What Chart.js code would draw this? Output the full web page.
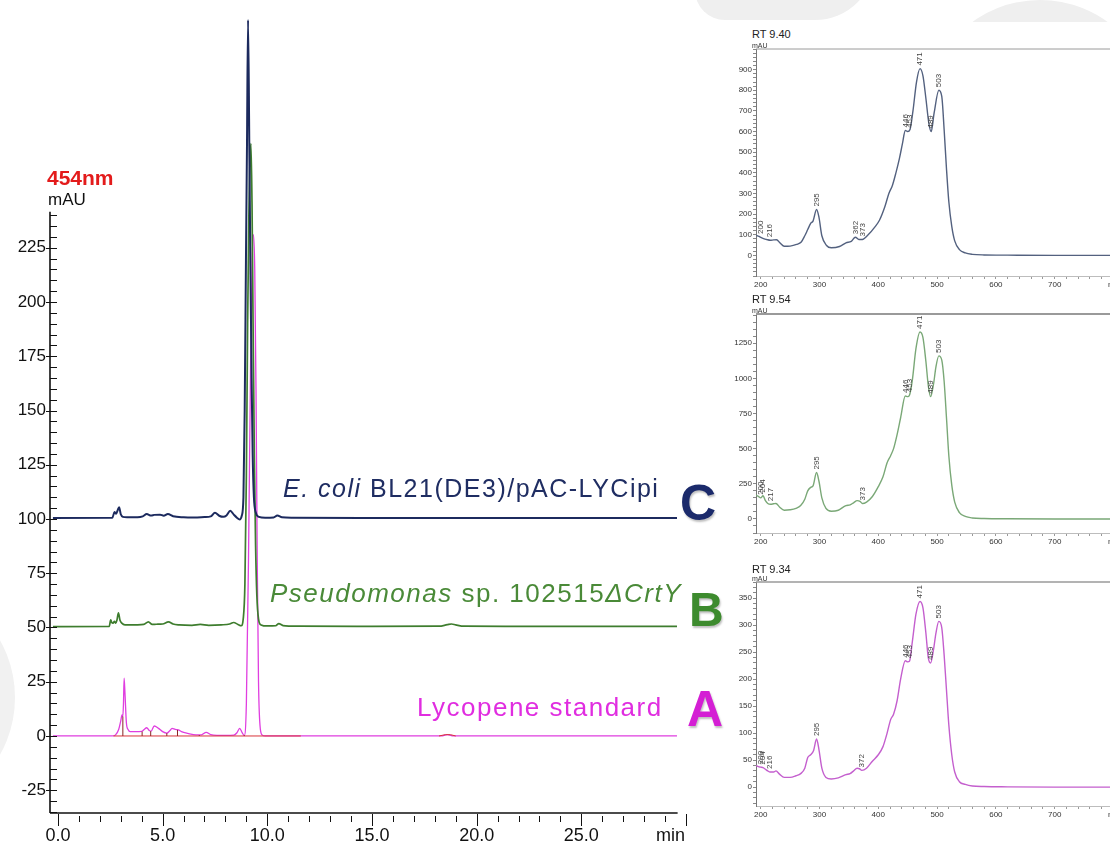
<!DOCTYPE html>
<html>
<head>
<meta charset="utf-8">
<script src="https://cdn.jsdelivr.net/npm/chart.js@4.4.1/dist/chart.umd.min.js"></script>
<style>
body{margin:0;width:1110px;height:848px;overflow:hidden;background:#fff;position:relative;font-family:"Liberation Sans",Arial,sans-serif}
.abs{position:absolute;white-space:nowrap}
canvas{position:absolute}
</style>
</head>
<body>
<!-- faint background shapes -->
<div class="abs" style="left:695px;top:-50px;width:180px;height:70px;background:#efefef;border-radius:0 0 60px 30px"></div>
<div class="abs" style="left:925px;top:0;width:230px;height:230px;border:22px solid #efefef;border-radius:50%;box-sizing:border-box"></div>
<div class="abs" style="left:-200px;top:585px;width:215px;height:225px;background:#f1f1f1;border-radius:50%"></div>
<div class="abs" style="left:735px;top:22px;width:380px;height:830px;background:#fff"></div>

<canvas id="chrom" width="720" height="848" style="left:0;top:0"></canvas>
<canvas id="spec1" width="394" height="243" style="left:726px;top:47px"></canvas>
<canvas id="spec2" width="394" height="235" style="left:726px;top:312px"></canvas>
<canvas id="spec3" width="394" height="240" style="left:726px;top:580px"></canvas>

<div class="abs" style="left:47px;top:167px;font-weight:bold;font-size:21px;line-height:21px;color:#e31b1b">454nm</div>
<div class="abs" style="left:48px;top:191px;font-size:17px;line-height:17px;color:#111">mAU</div>
<div class="abs" style="left:656px;top:826px;font-size:18px;line-height:18px;color:#111">min</div>

<div class="abs" style="left:283px;top:476px;font-size:25px;line-height:25px;letter-spacing:1.5px;color:#1f2d62"><i>E. coli</i> BL21(DE3)/pAC-LYCipi</div>
<div class="abs" style="left:270px;top:580px;font-size:26px;line-height:26px;letter-spacing:1.5px;color:#4a8a38"><i>Pseudomonas</i> sp. 102515<i>ΔCrtY</i></div>
<div class="abs" style="left:417px;top:694px;font-size:26px;line-height:26px;letter-spacing:1.5px;color:#e02de0">Lycopene standard</div>
<div class="abs" style="left:680px;top:478px;font-weight:bold;font-size:50px;line-height:50px;color:#1b2a6b;text-shadow:1px 2px 2px rgba(0,0,0,0.25)">C</div>
<div class="abs" style="left:689px;top:586px;font-weight:bold;font-size:48px;line-height:48px;color:#3d8b2e;text-shadow:1px 2px 2px rgba(0,0,0,0.25)">B</div>
<div class="abs" style="left:687px;top:684px;font-weight:bold;font-size:50px;line-height:50px;color:#d41fd4;text-shadow:1px 2px 2px rgba(0,0,0,0.25)">A</div>

<div class="abs" style="left:752px;top:29px;font-size:11px;line-height:11px;color:#222">RT 9.40</div>
<div class="abs" style="left:752px;top:42px;font-size:7px;line-height:7px;color:#333">mAU</div>
<div class="abs" style="left:752px;top:294px;font-size:11px;line-height:11px;color:#222">RT 9.54</div>
<div class="abs" style="left:752px;top:307px;font-size:7px;line-height:7px;color:#333">mAU</div>
<div class="abs" style="left:752px;top:564px;font-size:11px;line-height:11px;color:#222">RT 9.34</div>
<div class="abs" style="left:752px;top:575px;font-size:7px;line-height:7px;color:#333">mAU</div>

<script>
// chromatogram, 454 nm (traces offset by 0 / 50 / 100 mAU)
var traceC_t = [-0.24,2.6,2.7,2.78,2.85,2.92,3.0,3.1,3.3,3.8,4.05,4.24,4.45,4.6,4.88,5.05,5.25,5.5,6.0,6.5,7.0,7.3,7.5,7.7,7.9,8.05,8.23,8.4,8.55,8.68,8.78,8.86,8.92,8.98,9.03,9.08,9.14,9.19,9.25,9.3,9.36,9.45,9.6,9.9,10.3,10.48,10.7,11.2,15,20,25,29.57];
var traceC_v = [100.5,100.6,103.2,102.4,104.0,105.4,102.2,101.0,100.8,100.8,101.2,102.3,101.6,101.9,102.0,101.5,102.3,101.3,100.8,100.7,100.9,101.2,102.9,101.5,101.0,101.6,103.8,102.0,100.6,99.8,101.5,110,150,219,273,330,273,219,165,130,110,103,101,100.6,100.7,101.6,100.8,100.6,100.5,100.5,100.5,100.5];

var traceB_t = [-0.24,2.45,2.52,2.57,2.63,2.7,2.76,2.82,2.89,2.96,3.05,3.2,3.8,4.1,4.32,4.5,4.7,5.0,5.28,5.5,5.8,6.4,6.8,7.2,7.8,8.2,8.39,8.6,8.75,8.85,8.93,9.0,9.06,9.12,9.17,9.22,9.27,9.32,9.38,9.44,9.5,9.58,9.7,10.0,10.4,10.55,10.75,11.5,15,18.2,18.6,18.8,19.0,19.4,22,26,29.57];
var traceB_v = [50.4,50.5,53.5,52.3,52.0,52.8,52.0,53.5,56.8,53.5,52.0,51.2,51.2,51.4,52.6,51.4,51.5,51.6,52.6,51.6,51.2,51.0,51.4,51.0,51.2,51.6,52.3,51.4,50.8,54,70,120,190,240,265,273,245,190,130,88,65,54,51.2,50.7,50.8,51.8,50.9,50.6,50.5,50.6,51.3,51.6,51.2,50.6,50.5,50.5,50.5];

var traceA_t = [-0.24,2.6,2.75,2.9,3.0,3.06,3.1,3.13,3.16,3.2,3.27,3.35,3.45,3.7,4.0,4.12,4.24,4.36,4.45,4.6,4.8,5.0,5.2,5.35,5.45,5.6,5.75,5.9,6.2,6.6,6.85,7.08,7.3,7.6,8.0,8.4,8.55,8.68,8.8,8.9,9.0,9.1,9.2,9.28,9.34,9.4,9.46,9.52,9.58,9.65,9.75,9.9,12,15,18.3,18.6,18.9,19.2,22,26,29.57];
var traceA_v = [0,0,0.5,3,7,9.7,9,15,26.6,20,6,3,2,2,2.1,3,3.8,2.5,2.2,4.6,3.5,2,1.3,2.5,3.5,3,2.8,2,1.2,0.5,0.5,1.7,0.6,0.3,0.3,0.4,1.5,3.5,1.5,0.2,15,80,170,220,231,215,160,80,25,5,0.5,0,0,0,0,0.6,0,0,0,0,0];

// integration baseline and peak marks on the standard
var baseA_t = [2.65,11.6,11.61,18.2,18.5,18.75,19.0];
var baseA_v = [0,0,null,0,0.6,0.6,0];
var markA_t = [3.1,4.02,4.43,5.2,5.71,6.75,8.9];
var markA_h = [9,2.0,2.2,1.3,2.8,0.4,0.3];

// UV-vis spectra at the peak apex
var spec1_nm = [192,197,201,206,210,216,222,227,233,240,250,261,269,275,280,285,289,295,299,304,312,320,334,345,354,361,367,373,382,394,402,411,418,424,430,436,441,446,450,454,459,465,471,476,481,486,490,495,503,508,512,516,520,525,530,538,548,560,580,620,700,800];
var spec1_val = [97,92,86,80,77,73,75,76,60,44,45,53,65,95,125,155,166,222,186,95,48,37,43,61,68,88,77,77,97,137,170,234,300,339,400,470,540,605,600,610,700,840,905,870,760,640,600,690,800,770,610,420,260,140,70,28,12,5,2,1,0,0];
var spec1_pkNm = [200,216,295,362,373,446,453,471,489,503];
var spec1_pkY = [89,73,222,88,77,605,603,905,600,800];

var spec2_nm = [192,196,200,204,208,212,217,222,226,232,240,250,260,268,275,280,285,289,295,299,304,311,320,332,345,352,358,364,369,373,380,390,400,408,415,421,426,432,438,446,450,453,458,464,471,476,481,485,489,494,498,503,508,512,516,520,525,530,538,548,560,580,620,700,800];
var spec2_val = [170,160,150,165,130,110,105,108,110,85,62,65,75,95,140,200,225,235,330,270,150,75,55,62,95,100,115,130,125,110,120,160,230,300,400,450,500,600,720,875,870,880,990,1210,1330,1290,1120,950,870,960,1080,1160,1130,980,720,450,240,120,45,18,7,3,1,0,0];
var spec2_pkNm = [200,204,217,295,373,446,453,471,489,503];
var spec2_pkY = [150,165,105,330,110,875,880,1330,870,1160];

var spec3_nm = [192,196,200,204,208,212,216,222,226,232,240,250,260,268,275,280,285,290,295,299,304,311,320,332,345,352,358,364,368,372,380,390,400,408,415,421,426,432,438,446,450,453,458,464,471,476,481,485,489,494,498,503,508,512,516,520,525,530,538,548,560,580,620,700,800];
var spec3_val = [40,38,37,36,33,30,28,28,30,24,18,18,21,25,35,55,60,68,89,70,35,18,15,17,23,25,30,35,34,31,35,48,60,75,100,125,135,160,200,234,232,233,270,320,344,332,285,240,230,255,285,307,295,245,180,115,60,28,10,5,2,1,0.5,0,0];
var spec3_pkNm = [200,204,216,295,372,446,453,471,489,503];
var spec3_pkY = [37,36,28,89,31,234,233,344,230,307];

var axisTopVal = 241.6;   // y axis line stops here
var axisEndMin = 29.6;    // x axis line stops here

Chart.defaults.font.family = '"Liberation Sans", Arial, sans-serif';
Chart.defaults.color = '#111';

function pts(t, v) {
    return t.map(function(x, i) { return {x: x, y: v[i]}; });
}

function markPts(t, h) {
    var out = [];
    for (var i = 0; i < t.length; i++) {
        out.push({x: t[i], y: 0}, {x: t[i], y: h[i]}, {x: t[i], y: null});
    }
    return out;
}

// keep the plot area exactly where the layout puts it (no label padding)
function noPad(s) {
    s.paddingTop = 0;
    s.paddingBottom = 0;
}

// axis lines and tick marks of the chromatogram
var chromAxes = {
    id: 'chromAxes',
    afterDraw: function(chart) {
        var ctx = chart.ctx, xs = chart.scales.x, ys = chart.scales.y, a = chart.chartArea;
        ctx.save();
        ctx.strokeStyle = '#111';
        ctx.lineWidth = 1.6;
        ctx.beginPath();
        ctx.moveTo(a.left, a.bottom);
        ctx.lineTo(a.left, ys.getPixelForValue(axisTopVal));
        ctx.moveTo(a.left, a.bottom);
        ctx.lineTo(xs.getPixelForValue(axisEndMin), a.bottom);
        ctx.stroke();
        ctx.lineWidth = 1;
        ys.ticks.forEach(function(tk) {
            var v = Math.round(tk.value);
            if (v > 240) return;
            var y = Math.round(ys.getPixelForValue(v)) + 0.5;
            var major = v % 25 === 0 && v >= -25 && v <= 225;
            ctx.beginPath();
            ctx.moveTo(major ? a.left - 4 : a.left, y);
            ctx.lineTo(a.left + 7, y);
            ctx.stroke();
        });
        xs.ticks.forEach(function(tk) {
            var v = Math.round(tk.value);
            var x = Math.round(xs.getPixelForValue(v)) + 0.5;
            var major = v % 5 === 0;
            ctx.beginPath();
            ctx.moveTo(x, a.bottom + (major ? 1 : 3));
            ctx.lineTo(x, a.bottom + (major ? 13 : 9));
            ctx.stroke();
        });
        ctx.restore();
    }
};

new Chart(document.getElementById('chrom'), {
    type: 'line',
    data: {
        datasets: [
            {data: pts(traceC_t, traceC_v), borderColor: '#1c2a5e', borderWidth: 2, pointRadius: 0, cubicInterpolationMode: 'monotone'},
            {data: pts(traceB_t, traceB_v), borderColor: '#3e7d2e', borderWidth: 1.7, pointRadius: 0, cubicInterpolationMode: 'monotone'},
            {data: markPts(markA_t, markA_h), borderColor: '#8a2222', borderWidth: 1, pointRadius: 0, spanGaps: false},
            {data: pts(baseA_t, baseA_v), borderColor: '#d8333a', borderWidth: 1, pointRadius: 0, spanGaps: false},
            {data: pts(traceA_t, traceA_v), borderColor: '#e03ee0', borderWidth: 1.3, pointRadius: 0, cubicInterpolationMode: 'monotone'}
        ]
    },
    options: {
        responsive: false,
        animation: false,
        events: [],
        layout: {padding: {left: 0, right: 34, top: 0, bottom: 0}},
        plugins: {legend: {display: false}, tooltip: {enabled: false}},
        scales: {
            x: {
                type: 'linear', min: -0.38, max: 30,
                grid: {display: false, drawTicks: false},
                border: {display: false},
                afterFit: function(s) { s.height = 35; },
                ticks: {
                    stepSize: 1, autoSkip: false, includeBounds: false, maxRotation: 0, padding: 12,
                    font: {size: 18}, color: '#111',
                    callback: function(v) { var r = Math.round(v); return (r % 5 === 0 && r < 30) ? r.toFixed(1) : ''; }
                }
            },
            y: {
                type: 'linear', min: -35.5, max: 339.2,
                grid: {display: false, drawTicks: false},
                border: {display: false},
                afterFit: function(s) { s.width = 50; noPad(s); },
                ticks: {
                    stepSize: 5, autoSkip: false, includeBounds: false, padding: 4,
                    font: {size: 17}, color: '#111',
                    callback: function(v) { var r = Math.round(v); return (r % 25 === 0 && r >= -25 && r <= 225) ? String(r) : ''; }
                }
            }
        }
    },
    plugins: [chromAxes]
});

// rotated peak wavelength labels + top frame line of a spectrum
var specMarks = {
    id: 'specMarks',
    afterDraw: function(chart) {
        var o = chart.options.plugins.specMarks, ctx = chart.ctx, a = chart.chartArea;
        var xs = chart.scales.x, ys = chart.scales.y;
        ctx.save();
        ctx.strokeStyle = '#9a9a9a';
        ctx.lineWidth = o.frame;
        ctx.beginPath();
        ctx.moveTo(a.left, a.top);
        ctx.lineTo(a.right, a.top);
        ctx.stroke();
        ctx.fillStyle = '#444';
        ctx.font = '8px "Liberation Sans", Arial, sans-serif';
        ctx.textAlign = 'left';
        ctx.textBaseline = 'middle';
        for (var i = 0; i < o.nm.length; i++) {
            ctx.save();
            ctx.translate(xs.getPixelForValue(o.nm[i]), ys.getPixelForValue(o.y[i]) - 3);
            ctx.rotate(-Math.PI / 2);
            ctx.fillText(String(o.nm[i]), 0, 0);
            ctx.restore();
        }
        ctx.restore();
    }
};

function spectrum(id, nm, val, pkNm, pkY, color, ymin, ymax, labelStep, minorStep, labelMax, frame) {
    return new Chart(document.getElementById(id), {
        type: 'line',
        data: {datasets: [{data: pts(nm, val), borderColor: color, borderWidth: 1.4, pointRadius: 0, cubicInterpolationMode: 'monotone'}]},
        options: {
            responsive: false,
            animation: false,
            events: [],
            layout: {padding: {left: 0, right: 5, top: 2, bottom: 0}},
            plugins: {legend: {display: false}, tooltip: {enabled: false}, specMarks: {nm: pkNm, y: pkY, frame: frame}},
            scales: {
                x: {
                    type: 'linear', min: 192, max: 800,
                    grid: {drawOnChartArea: false, tickLength: 3, color: '#999'},
                    border: {color: '#bdbdbd', width: 1},
                    afterFit: function(s) { s.height = 14; },
                    ticks: {
                        stepSize: 20, autoSkip: false, includeBounds: false, maxRotation: 0, padding: 1,
                        font: {size: 8}, color: '#333',
                        callback: function(v) { var r = Math.round(v); if (r === 800) return 'nm'; return (r % 100 === 0) ? String(r) : ''; }
                    }
                },
                y: {
                    type: 'linear', min: ymin, max: ymax,
                    grid: {drawOnChartArea: false, tickLength: 3, color: '#888'},
                    border: {color: '#777', width: 1},
                    afterFit: function(s) { s.width = 30; noPad(s); },
                    ticks: {
                        stepSize: minorStep, autoSkip: false, includeBounds: false, padding: 1,
                        font: {size: 8}, color: '#333',
                        callback: function(v) { var r = Math.round(v); return (r % labelStep === 0 && r >= 0 && r <= labelMax) ? String(r) : ''; }
                    }
                }
            }
        },
        plugins: [specMarks]
    });
}

spectrum('spec1', spec1_nm, spec1_val, spec1_pkNm, spec1_pkY, '#53617f', -100, 1000, 100, 20, 900, 1);
spectrum('spec2', spec2_nm, spec2_val, spec2_pkNm, spec2_pkY, '#7aa877', -100, 1458, 250, 50, 1250, 2);
spectrum('spec3', spec3_nm, spec3_val, spec3_pkNm, spec3_pkY, '#c45fce', -35, 380, 50, 10, 350, 1.5);
</script>
</body>
</html>
